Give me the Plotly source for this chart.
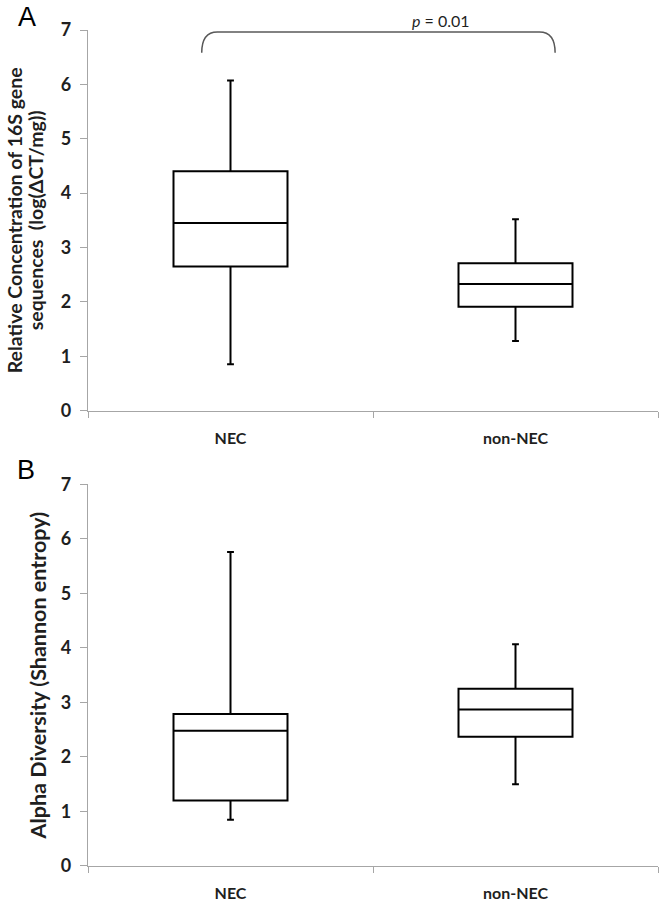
import plotly.graph_objects as go

categories = ["NEC", "non-NEC"]
cat_pos = [0.5, 1.5]

# Panel A: Relative concentration of 16S gene sequences
a_min = [0.85, 1.28]
a_q1 = [2.65, 1.91]
a_median = [3.45, 2.33]
a_q3 = [4.40, 2.71]
a_max = [6.07, 3.52]

# Panel B: Alpha diversity (Shannon entropy)
b_min = [0.85, 1.50]
b_q1 = [1.20, 2.37]
b_median = [2.48, 2.87]
b_q3 = [2.79, 3.25]
b_max = [5.76, 4.07]

y_ticks = [0, 1, 2, 3, 4, 5, 6, 7]
y_tick_labels = ["0", "1", "2", "3", "4", "5", "6", "7"]
a_title_lines = ["Relative Concentration of 16S gene", "sequences  (log(ΔCT/mg))"]
b_title = "Alpha Diversity (Shannon entropy)"
p_text = "<i>p</i> = 0.01"

W, H = 664, 908
ML, MR, MT, MB = 88, 6, 30, 36
PW, PH = W - ML - MR, H - MT - MB

def px_x(p):
    return (p - ML) / PW

def px_y(p):
    return 1 - (p - MT) / PH

FONT = "Lato, Open Sans, sans-serif"
TXT = "#1f1f1f"

fig = go.Figure()

def add_boxes(mins, q1s, meds, q3s, maxs, xa, ya):
    for i in range(len(categories)):
        fig.add_trace(go.Box(
            x=[cat_pos[i]], q1=[q1s[i]], median=[meds[i]], q3=[q3s[i]],
            lowerfence=[mins[i]], upperfence=[maxs[i]],
            width=0.40, whiskerwidth=0.06, boxpoints=False,
            line=dict(color="black", width=2), fillcolor="white",
            showlegend=False, hoverinfo="skip", xaxis=xa, yaxis=ya))

add_boxes(a_min, a_q1, a_median, a_q3, a_max, "x", "y")
add_boxes(b_min, b_q1, b_median, b_q3, b_max, "x2", "y2")

axis_gray = "#a6a6a6"

def xaxis_cfg(anchor):
    return dict(
        anchor=anchor, domain=[0, 1], range=[0, 2],
        tickvals=cat_pos, ticktext=[f"<b>{c}</b>" for c in categories], ticks="",
        ticklabelstandoff=13,
        tickfont=dict(family=FONT, size=16, color=TXT),
        showline=True, linecolor=axis_gray, linewidth=1.3,
        showgrid=False, zeroline=False, fixedrange=True,
        minor=dict(tickvals=[0, 1, 2], ticks="outside", ticklen=6,
                   tickcolor=axis_gray, tickwidth=1.3, showgrid=False),
    )

def yaxis_cfg(anchor, domain, title):
    return dict(
        anchor=anchor, domain=domain, range=[0, 7],
        tickvals=y_ticks, ticktext=[f"<b>{t}</b>" for t in y_tick_labels],
        ticks="outside", ticklen=7, ticklabelstandoff=5,
        tickcolor=axis_gray, tickwidth=1.3,
        tickfont=dict(family=FONT, size=18, color=TXT),
        showline=True, linecolor=axis_gray, linewidth=1.3,
        showgrid=False, zeroline=False, fixedrange=True,
        title=dict(text=f"<b>{title}</b>" if title else "", standoff=8,
                   font=dict(family=FONT, size=21.5, color=TXT)),
    )

a_dom = [px_y(413.3), 1.0]
b_dom = [0.0, px_y(487.7)]

fig.update_layout(
    width=W, height=H,
    margin=dict(l=ML, r=MR, t=MT, b=MB),
    plot_bgcolor="white", paper_bgcolor="white",
    xaxis=xaxis_cfg("y"),
    yaxis=yaxis_cfg("x", a_dom, ""),
    xaxis2=xaxis_cfg("y2"),
    yaxis2=yaxis_cfg("x2", b_dom, b_title),
)

# two-line title of panel A (tight line spacing as in the reference)
a_mid = (a_dom[0] + a_dom[1]) / 2
for line, xp in zip(a_title_lines, [14, 35]):
    fig.add_annotation(x=px_x(xp), y=a_mid, xref="paper", yref="paper",
                       text=f"<b>{line}</b>", textangle=-90, showarrow=False,
                       xanchor="center", yanchor="middle",
                       font=dict(family=FONT, size=19.5, color=TXT))

# significance bracket in panel A
x0, x1 = 0.399, 1.639
yt, yb = 6.963, 6.58
dx = 0.055
path = (f"M {x0},{yb} Q {x0},{yt} {x0+dx},{yt} L {x1-dx},{yt} "
        f"Q {x1},{yt} {x1},{yb}")
fig.add_shape(type="path", path=path, xref="x", yref="y",
              line=dict(color="#595959", width=1.5))

fig.add_annotation(x=px_x(441), y=px_y(20), xref="paper", yref="paper", text=p_text,
                   showarrow=False, xanchor="center", yanchor="middle",
                   font=dict(family=FONT, size=16, color=TXT))

for lab, xp, yp in [("A", 27, 17), ("B", 26, 473)]:
    fig.add_annotation(x=px_x(xp), y=px_y(yp), xref="paper", yref="paper", text=lab,
                       showarrow=False, xanchor="center", yanchor="middle",
                       font=dict(family="Liberation Sans, Arial, sans-serif", size=27, color="black"))

fig.write_html("out.html", config={"displayModeBar": False},
               post_script="document.body.style.margin='0';")
